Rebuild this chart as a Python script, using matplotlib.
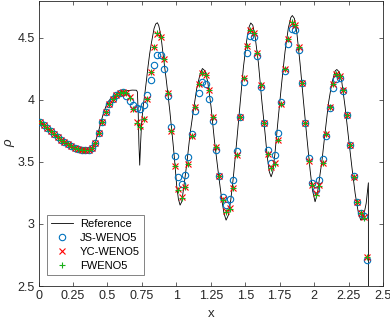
import numpy as np
import matplotlib
matplotlib.use("Agg")
import matplotlib.pyplot as plt

plt.rcParams['font.family'] = ['Liberation Sans', 'DejaVu Sans']

# grid of cell centres (dx = 0.025)
x_cells = [0.0125 + 0.025 * k for k in range(96)]

smooth = [3.818, 3.795, 3.770, 3.748, 3.725, 3.700, 3.680, 3.660, 3.643, 3.628,
          3.615, 3.605, 3.598, 3.596, 3.598, 3.615, 3.655, 3.730, 3.820, 3.905,
          3.970, 4.010, 4.038, 4.055, 4.064]

js_tail = [4.030, 3.990, 3.957, 3.935, 3.928, 3.955, 4.040, 4.160, 4.280, 4.360,
           4.360, 4.247, 4.035, 3.778, 3.547, 3.378, 3.320, 3.394, 3.536, 3.729,
           3.909, 4.056, 4.145, 4.132, 4.011, 3.831, 3.600, 3.386, 3.219, 3.152,
           3.200, 3.353, 3.589, 3.863, 4.145, 4.378, 4.513, 4.507, 4.352, 4.100,
           3.815, 3.600, 3.493, 3.555, 3.734, 3.984, 4.233, 4.454, 4.575, 4.567,
           4.400, 4.137, 3.815, 3.528, 3.332, 3.273, 3.353, 3.520, 3.710, 3.931,
           4.092, 4.172, 4.180, 4.073, 3.877, 3.635, 3.385, 3.179, 3.090, 3.064,
           2.709]

yc_tail = [4.055, 4.020, 3.930, 3.820, 3.790, 3.850, 4.010, 4.225, 4.430, 4.535,
           4.510, 4.330, 4.056, 3.750, 3.469, 3.278, 3.219, 3.300, 3.482, 3.708,
           3.939, 4.132, 4.217, 4.199, 4.080, 3.865, 3.622, 3.386, 3.198, 3.106,
           3.126, 3.287, 3.555, 3.863, 4.180, 4.432, 4.561, 4.543, 4.382, 4.118,
           3.815, 3.563, 3.460, 3.488, 3.676, 3.965, 4.253, 4.494, 4.620, 4.600,
           4.427, 4.137, 3.815, 3.509, 3.313, 3.246, 3.313, 3.488, 3.724, 3.944,
           4.132, 4.207, 4.191, 4.078, 3.877, 3.635, 3.380, 3.179, 3.085, 3.053,
           2.736]

fw_tail = [4.055, 4.015, 3.930, 3.815, 3.780, 3.845, 4.010, 4.225, 4.430, 4.540,
           4.510, 4.330, 4.056, 3.750, 3.469, 3.270, 3.210, 3.295, 3.482, 3.708,
           3.939, 4.132, 4.217, 4.199, 4.080, 3.865, 3.622, 3.386, 3.195, 3.100,
           3.120, 3.287, 3.555, 3.863, 4.180, 4.432, 4.565, 4.543, 4.382, 4.118,
           3.815, 3.563, 3.450, 3.482, 3.676, 3.965, 4.253, 4.494, 4.625, 4.600,
           4.427, 4.137, 3.815, 3.509, 3.313, 3.235, 3.310, 3.488, 3.724, 3.944,
           4.132, 4.207, 4.191, 4.078, 3.877, 3.635, 3.380, 3.179, 3.085, 3.050,
           2.730]

js = smooth + js_tail
yc = smooth + yc_tail
fw = smooth + fw_tail

ref_x = [0.0, 0.05, 0.1, 0.15, 0.2, 0.25, 0.3, 0.34, 0.37, 0.39, 0.41, 0.43, 0.45,
         0.47, 0.49, 0.51, 0.54, 0.57, 0.60, 0.64, 0.68, 0.71, 0.717, 0.723, 0.728,
         0.734, 0.740, 0.747, 0.757, 0.770, 0.782, 0.794, 0.806, 0.818, 0.838, 0.850,
         0.862, 0.872, 0.881, 0.893, 0.903, 0.927, 0.952, 0.976, 0.986, 1.003, 1.015,
         1.027, 1.039, 1.051, 1.076, 1.100, 1.124, 1.148, 1.172, 1.189, 1.208, 1.228,
         1.252, 1.276, 1.305, 1.330, 1.346, 1.361, 1.378, 1.395, 1.414, 1.439, 1.463,
         1.487, 1.511, 1.528, 1.540, 1.555, 1.572, 1.596, 1.620, 1.644, 1.660, 1.675,
         1.688, 1.700, 1.715, 1.741, 1.765, 1.789, 1.813, 1.831, 1.842, 1.857, 1.874,
         1.898, 1.922, 1.947, 1.971, 1.988, 2.007, 2.024, 2.044, 2.056, 2.080, 2.104,
         2.128, 2.153, 2.165, 2.182, 2.201, 2.225, 2.249, 2.274, 2.298, 2.322, 2.339,
         2.358, 2.378, 2.394, 2.395, 2.500]
ref_y = [3.825, 3.783, 3.737, 3.690, 3.652, 3.621, 3.603, 3.595, 3.600, 3.617, 3.655,
         3.725, 3.810, 3.890, 3.952, 3.993, 4.030, 4.052, 4.066, 4.074, 4.079, 4.078,
         4.065, 3.900, 3.650, 3.474, 3.640, 3.800, 3.930, 4.040, 4.150, 4.266, 4.370,
         4.454, 4.575, 4.612, 4.622, 4.600, 4.555, 4.470, 4.374, 4.159, 3.917, 3.649,
         3.530, 3.300, 3.200, 3.152, 3.179, 3.273, 3.488, 3.730, 3.917, 4.092, 4.207,
         4.253, 4.234, 4.145, 3.944, 3.676, 3.408, 3.193, 3.085, 3.031, 3.072, 3.193,
         3.380, 3.676, 3.972, 4.266, 4.481, 4.588, 4.620, 4.602, 4.508, 4.294, 3.998,
         3.730, 3.540, 3.420, 3.380, 3.420, 3.560, 3.870, 4.140, 4.390, 4.580, 4.664,
         4.680, 4.656, 4.548, 4.294, 3.998, 3.703, 3.434, 3.273, 3.179, 3.246, 3.408,
         3.500, 3.740, 3.972, 4.132, 4.234, 4.245, 4.226, 4.145, 3.944, 3.703, 3.461,
         3.246, 3.085, 3.031, 3.058, 3.166, 3.332, 0.920, 1.030]

xticks = [0, 0.25, 0.5, 0.75, 1, 1.25, 1.5, 1.75, 2, 2.25, 2.5]
xtick_labels = ['0', '0.25', '0.5', '0.75', '1', '1.25', '1.5', '1.75', '2', '2.25', '2.5']
yticks = [2.5, 3, 3.5, 4, 4.5]
ytick_labels = ['2.5', '3', '3.5', '4', '4.5']

fig = plt.figure(figsize=(3.9, 3.21), dpi=100)
ax = fig.add_axes([0.099, 0.109, 0.883, 0.889])

ax.plot(ref_x, ref_y, color='black', lw=0.6, label='Reference', zorder=2)
ax.plot(x_cells, js, linestyle='none', marker='o', ms=4.6, mfc='none',
        mec='#0072BD', mew=0.8, label='JS-WENO5', zorder=3)
ax.plot(x_cells, yc, linestyle='none', marker='x', ms=4.2, color='#FF0000',
        mew=0.8, label='YC-WENO5', zorder=4)
ax.plot(x_cells, fw, linestyle='none', marker='+', ms=5.0, color='#1AAF1A',
        mew=0.8, label='FWENO5', zorder=5)

ax.set_xlim(0, 2.5)
ax.set_ylim(2.5, 4.8)
ax.set_xticks(xticks)
ax.set_xticklabels(xtick_labels)
ax.set_yticks(yticks)
ax.set_yticklabels(ytick_labels)
ax.tick_params(direction='in', length=3, width=0.5, labelsize=9, colors='#262626',
               top=True, right=True, pad=3)
for s in ax.spines.values():
    s.set_color('#262626')
    s.set_linewidth(0.6)

ax.set_xlabel('x', fontsize=9.5, color='#262626', labelpad=4)
ax.set_ylabel('ρ', fontsize=9.5, color='#262626', style='italic', labelpad=1)

leg = ax.legend(loc='lower left', bbox_to_anchor=(0.025, 0.04), fontsize=8,
                frameon=True, fancybox=False, edgecolor='#262626',
                handlelength=2.0, handletextpad=0.6, borderpad=0.35,
                labelspacing=0.35, borderaxespad=0)
leg.get_frame().set_linewidth(0.5)

fig.savefig('out.png', dpi=100)
